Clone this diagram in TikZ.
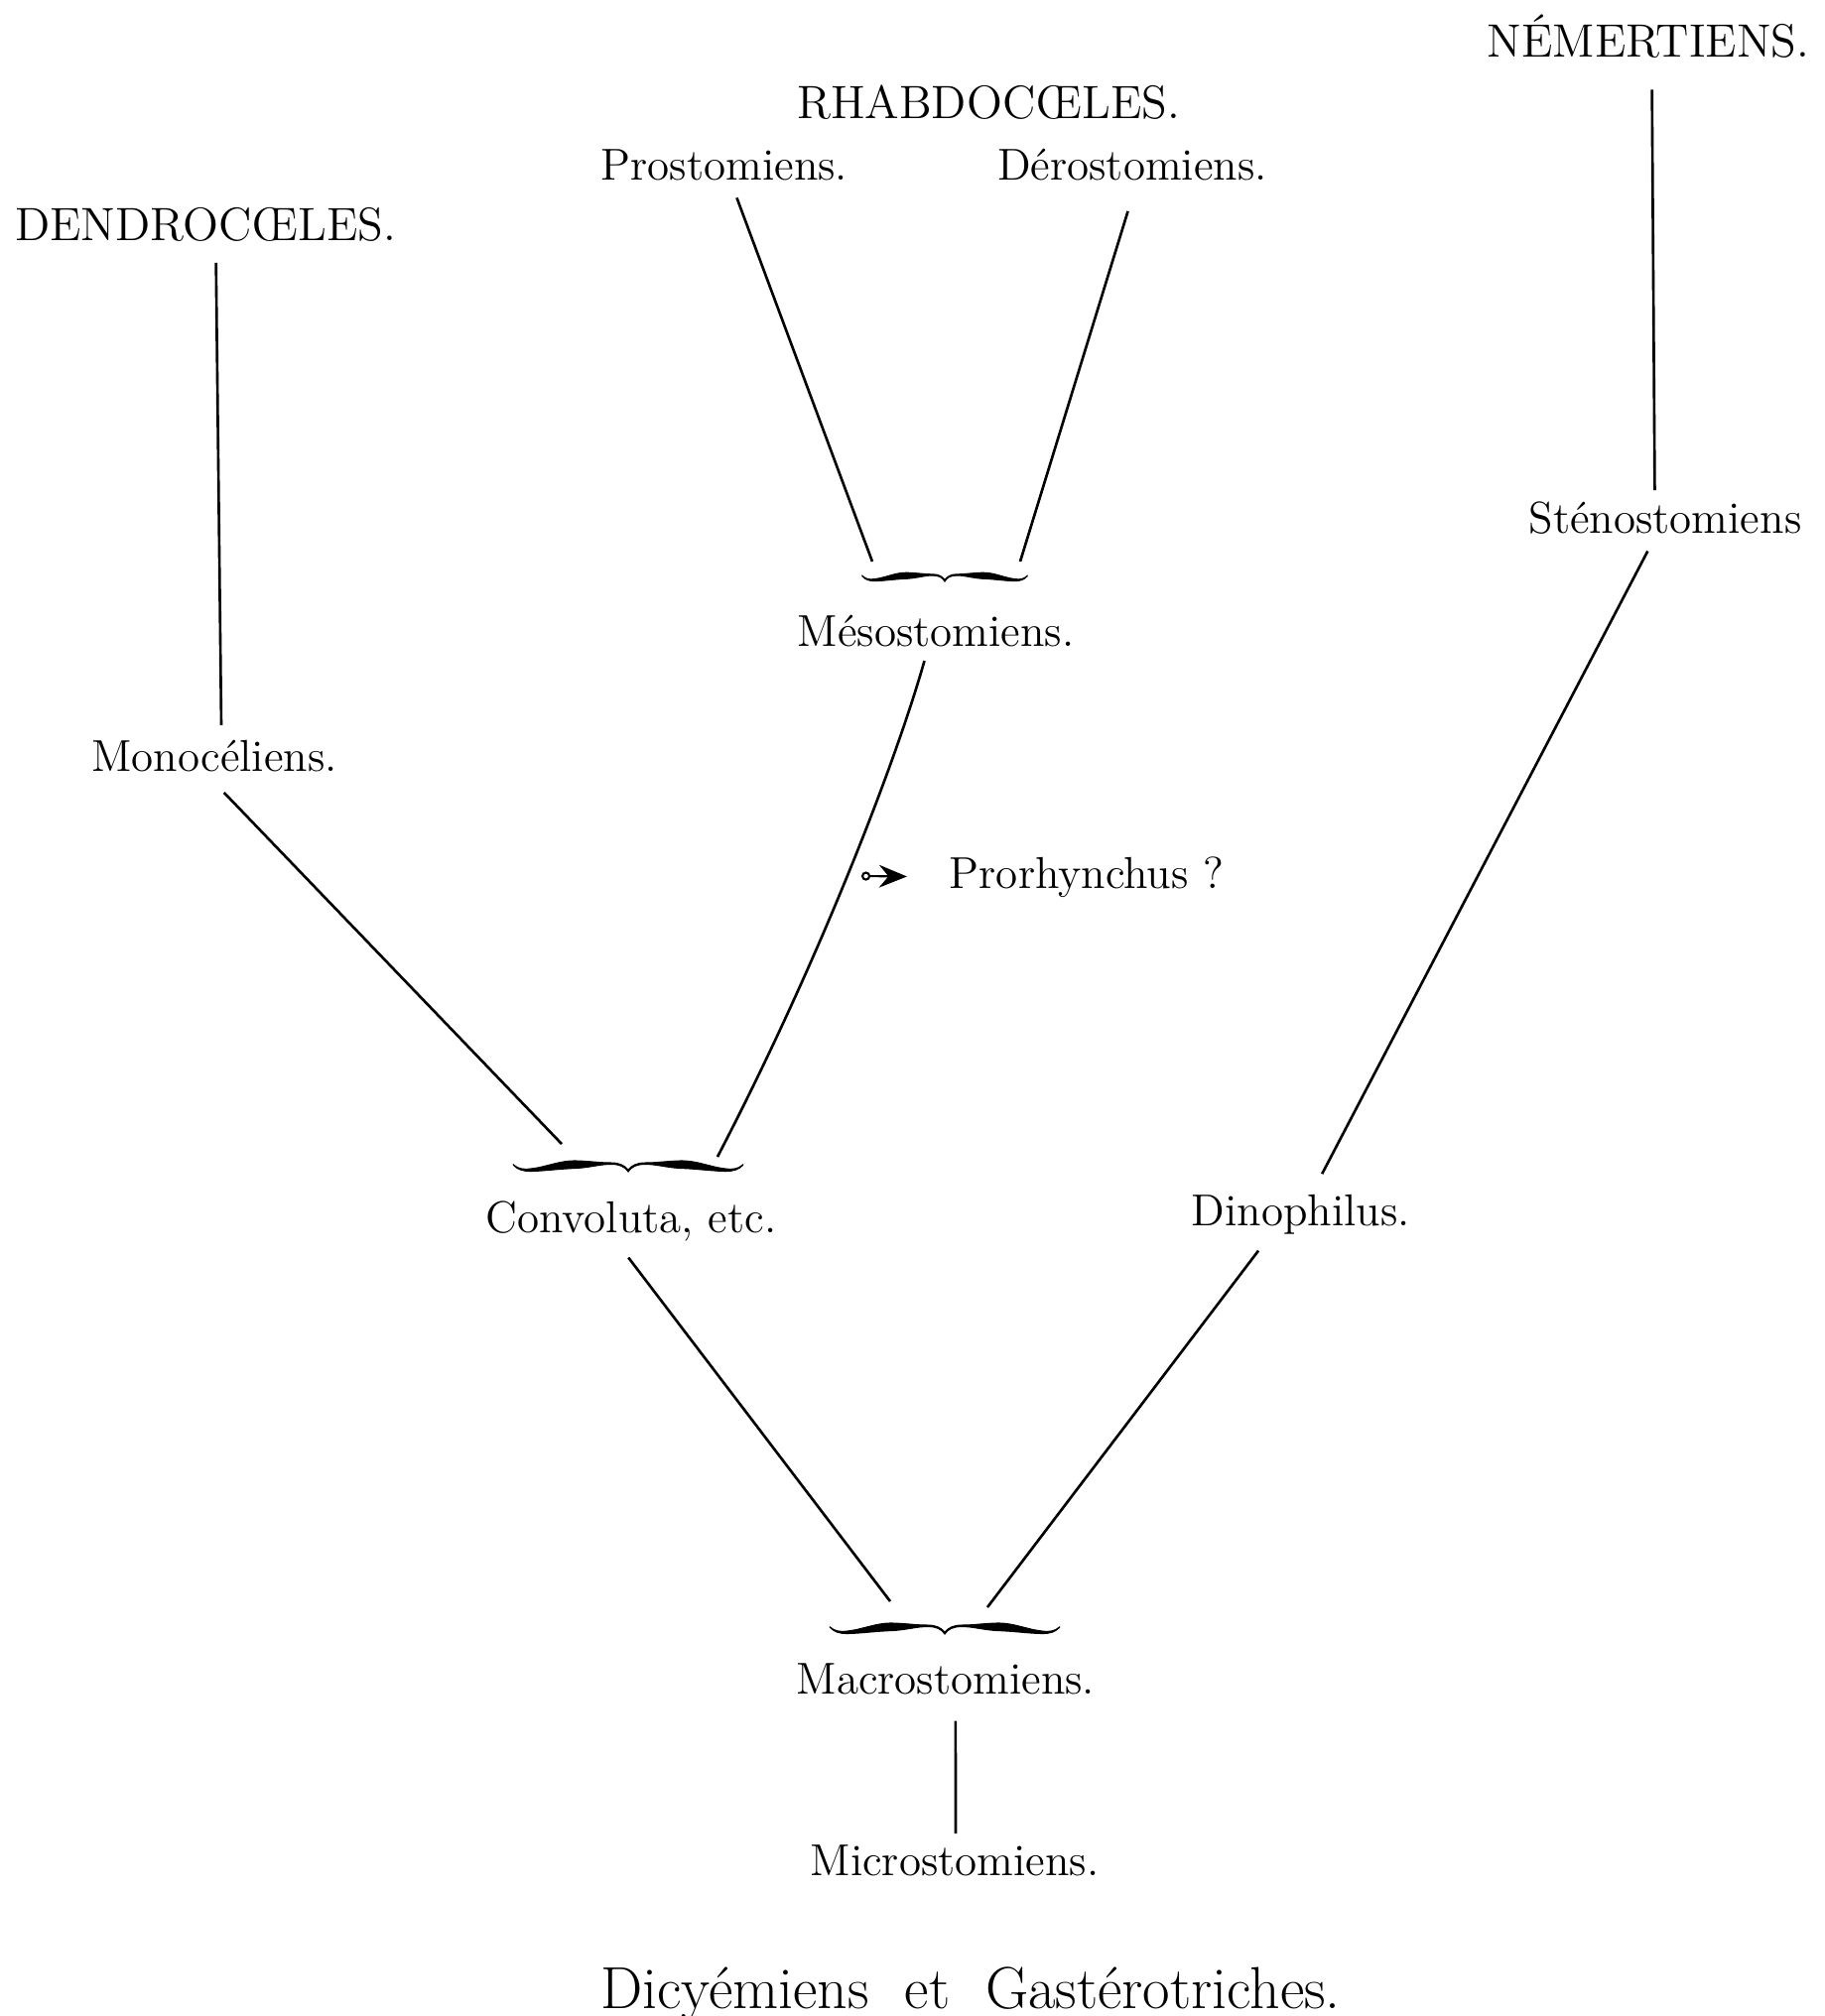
\documentclass[tikz,border=0pt]{standalone}
\usepackage{tikz}
\usetikzlibrary{arrows.meta}

\tikzset{
  taxon/.style={font=\fontsize{12.8}{15}\selectfont, inner sep=3pt, anchor=base},
  grouptitle/.style={font=\fontsize{13.4}{15}\selectfont, inner sep=3pt, anchor=base},
  branch/.style={line width=0.75pt},
  pics/accolade/.style={code={
    \filldraw[line width=0.3pt]
      (-100,-7) .. controls (-96,-3) and (-92,-2) .. (-85,-3)
      .. controls (-70,-5) and (-60,-11.5) .. (-45,-11)
      .. controls (-32,-10.5) and (-25,-9) .. (-15,-9)
      .. controls (-7,-9) and (-3,-6) .. (0,-2)
      .. controls (3,-6) and (7,-9) .. (15,-9)
      .. controls (25,-9) and (32,-10.5) .. (45,-11)
      .. controls (60,-11.5) and (70,-5) .. (85,-3)
      .. controls (92,-2) and (96,-3) .. (100,-7)
      -- (100,-6.5)
      .. controls (96,-2) and (92,-0.5) .. (85,-0.5)
      .. controls (75,-0.5) and (60,-3) .. (45,-3.5)
      .. controls (32,-4.5) and (25,-7.5) .. (15,-7.5)
      .. controls (7,-7.5) and (3,-5) .. (0,0)
      .. controls (-3,-5) and (-7,-7.5) .. (-15,-7.5)
      .. controls (-25,-7.5) and (-32,-4.5) .. (-45,-3.5)
      .. controls (-60,-3) and (-75,-0.5) .. (-85,-0.5)
      .. controls (-92,-0.5) and (-96,-2) .. (-100,-6.5) -- cycle;
  }}
}

\begin{document}
\begin{tikzpicture}[x=0.01cm, y=-0.01cm]

\useasboundingbox (0,0) rectangle (1838,2032);

% Group titles
\node[grouptitle] (nemert) at (1661,57) {NÉMERTIENS.};
\node[grouptitle] (rhabdo) at (996,119) {RHABDOCŒLES.};
\node[grouptitle] (dendro) at (207,242) {DENDROCŒLES.};

% Taxa
\node[taxon] (prosto) at (730,181) {Prostomiens.};
\node[taxon] (dero) at (1141,181) {Dérostomiens.};
\node[taxon] (steno) at (1678,537) {Sténostomiens};
\node[taxon] (meso) at (943,651) {Mésostomiens.};
\node[taxon] (mono) at (216,777) {Monocéliens.};
\node[taxon] (prorh) at (1095,895) {Prorhynchus ?};
\node[taxon] (conv) at (636,1242) {Convoluta, etc.};
\node[taxon] (dino) at (1311,1235) {Dinophilus.};
\node[taxon] (macro) at (953,1707) {Macrostomiens.};
\node[taxon] (micro) at (962,1890) {Microstomiens.};
\node[font=\fontsize{17}{20}\selectfont, inner sep=3pt, anchor=base] (dicy) at (978,2024)
  {Dicyémiens\hspace{0.6em}et\hspace{0.6em}Gastérotriches.};

% Braces
\pic[xscale=0.83, yscale=0.8] at (952,586) {accolade}; % under Prostomiens / Dérostomiens
\pic[xscale=1.155] at (633,1181) {accolade};           % over Convoluta
\pic[xscale=1.155] at (952,1647) {accolade};           % over Macrostomiens

% Line ends above the braces
\coordinate (ml) at (879,566);
\coordinate (mr) at (1028,566);
\coordinate (cl) at (566,1153);
\coordinate (cr) at (723,1166);
\coordinate (xl) at (897,1614);
\coordinate (xr) at (995,1620);
\coordinate (tail) at (868,883); % start of the Prorhynchus arrow

% Branches
\draw[branch, shorten <=3pt, shorten >=1pt] ([xshift=3pt]dendro.south) -- ([xshift=2pt]mono.north);
\draw[branch, shorten <=4pt] (mono.south) -- (cl);
\draw[branch, shorten <=2pt] (prosto) -- (ml);
\draw[branch, shorten <=6pt] ([xshift=0.5pt]dero.south) -- (mr);
\draw[branch, shorten <=6pt] ([xshift=1pt]nemert.south) -- ([xshift=-3pt]steno.north);
\draw[branch, shorten <=2pt, shorten >=3pt] (steno) -- (dino);
\draw[branch, shorten <=1pt] ([xshift=-3pt]meso.south) .. controls (905,760) and (830,960) .. (cr);
\draw[branch, shorten <=2pt] ([xshift=-2pt]conv.south) -- (xl);
\draw[branch, shorten <=2pt] ([xshift=-11pt]dino.south) -- (xr);
\draw[branch, shorten <=4.5pt] ([xshift=2.8pt]macro.south) -- ([xshift=0.3pt]micro.north);

% Prorhynchus arrow
\draw[line width=0.6pt, shorten >=9pt,
  {Circle[open,length=2.6pt,width=2.6pt]}-{Stealth[length=8pt,width=6.5pt,inset=2.7pt]}]
  (tail) -- (prorh.west);

\end{tikzpicture}
\end{document}
